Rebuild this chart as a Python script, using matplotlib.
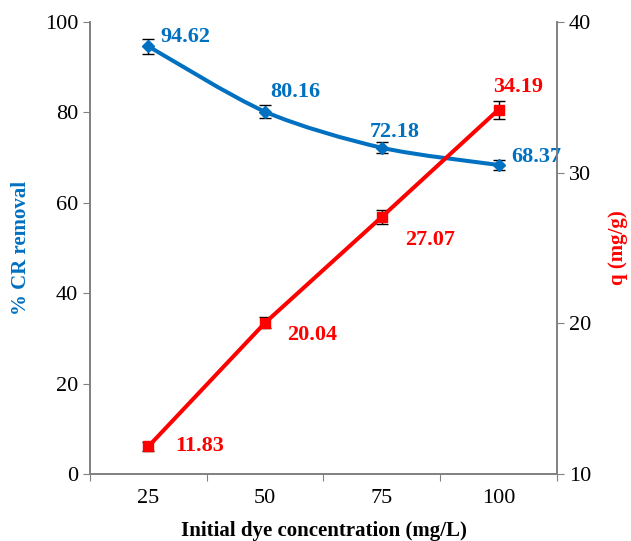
import numpy as np
import matplotlib
matplotlib.use("Agg")
import matplotlib.pyplot as plt
from matplotlib.path import Path
from matplotlib.patches import PathPatch

# datos
conc = ["25", "50", "75", "100"]
removal = [94.62, 80.16, 72.18, 68.37]
removal_err = [1.6, 1.4, 1.2, 1.1]
q = [11.83, 20.04, 27.07, 34.19]
q_err = [0.3, 0.35, 0.45, 0.6]

BLUE = "#0070C0"
RED = "#FF0000"
GRAY = "#808080"

plt.rcParams["font.family"] = ["Liberation Serif", "DejaVu Serif"]

fig = plt.figure(figsize=(6.31, 5.41), dpi=100)
ax = fig.add_axes([0.1426, 0.1238, 0.8827 - 0.1426, 0.9593 - 0.1238])
ax2 = ax.twinx()

x = np.arange(len(conc)) + 0.5

# curva suavizada (estilo Excel) para % remocion
pts = np.column_stack([x, removal])
ext = np.vstack([pts[0], pts, pts[-1]])
verts = [tuple(pts[0])]
codes = [Path.MOVETO]
for i in range(len(pts) - 1):
    p0, p1, p2, p3 = ext[i], ext[i + 1], ext[i + 2], ext[i + 3]
    c1 = p1 + (p2 - p0) / 7
    c2 = p2 - (p3 - p1) / 7
    verts += [tuple(c1), tuple(c2), tuple(p2)]
    codes += [Path.CURVE4] * 3
ax.add_patch(PathPatch(Path(verts, codes), fill=False, edgecolor=BLUE, lw=2.9, zorder=3))
ax.errorbar(x, removal, yerr=removal_err, fmt="D", color=BLUE, ms=6,
            ecolor="black", elinewidth=1, capsize=4, capthick=1, zorder=4)

ax2.errorbar(x, q, yerr=q_err, fmt="s-", color=RED, ms=7, lw=2.9,
             ecolor="black", elinewidth=1, capsize=4, capthick=1, zorder=4)

# etiquetas de datos
FS = 16
blue_off = [(27, 6.5), (22, 14), (9, 11), (27, 6)]
for xi, v, off in zip(x, removal, blue_off):
    ax.annotate(f"{v:.2f}", (xi, v), xytext=off, textcoords="offset points",
                ha="center", va="center", color=BLUE, fontsize=FS, fontweight="bold")
red_off = [(37, 0), (34, -9), (35, -17), (14, 16.5)]
for xi, v, off in zip(x, q, red_off):
    ax2.annotate(f"{v:.2f}", (xi, v), xytext=off, textcoords="offset points",
                 ha="center", va="center", color=RED, fontsize=FS, fontweight="bold")

ax.set_xlim(0, 4)
ax.set_ylim(0, 100)
ax2.set_ylim(10, 40)
ax.set_yticks(range(0, 101, 20))
ax2.set_yticks([10, 20, 30, 40])

ax.set_xticks(np.arange(0, 5))
ax.set_xticklabels([])
ax.set_xticks(x, minor=True)
ax.set_xticklabels(conc, minor=True)
ax.tick_params(axis="x", which="minor", length=0, pad=11, labelsize=FS)
ax.tick_params(axis="x", which="major", length=5, color=GRAY, direction="out")
ax.tick_params(axis="y", length=5, color=GRAY, labelsize=FS)
ax2.tick_params(axis="y", length=5, color=GRAY, labelsize=FS)

for a in (ax, ax2):
    a.spines["top"].set_visible(False)
    for s in ("left", "right", "bottom"):
        a.spines[s].set_color(GRAY)
        a.spines[s].set_linewidth(1.2)

ax.set_xlabel("Initial dye concentration (mg/L)", fontsize=15, fontweight="bold", labelpad=9)
ax.set_ylabel("% CR removal", fontsize=15, fontweight="bold", color=BLUE, labelpad=10)
ax2.set_ylabel("q (mg/g)", fontsize=15, fontweight="bold", color=RED, labelpad=12)

fig.savefig("out.png", dpi=100)
